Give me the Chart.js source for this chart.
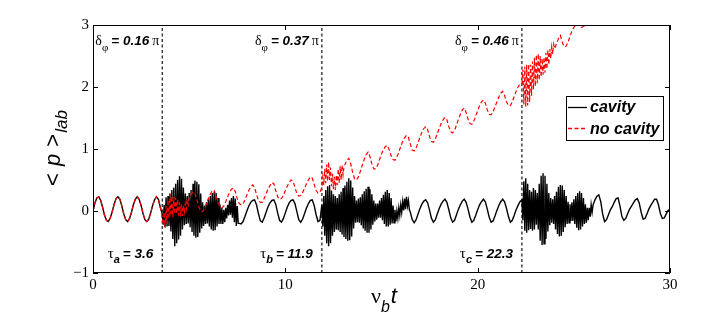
<!DOCTYPE html>
<html><head><meta charset="utf-8">
<script src="https://cdn.jsdelivr.net/npm/chart.js@4/dist/chart.umd.min.js"></script>
<style>html,body{margin:0;padding:0;background:#fff;}#wrap{width:708px;height:336px;}</style>
</head><body><div id="wrap"><canvas id="c" width="708" height="336"></canvas></div>
<script>
// ---- axis / annotation data ----
const xTicks = [0, 10, 20, 30];
const yTicks = [-1, 0, 1, 2, 3];
const tauTimes = [3.6, 11.9, 22.3];
const tauNames = ['a', 'b', 'c'];
const deltaPhi = ['0.16', '0.37', '0.46'];
const seriesNames = ['cavity', 'no cavity'];

// ---- "cavity" series, piecewise (start time, step, values) ----
const cavStart = [0, 3.6, 7.6, 11.9, 16.5, 22.3, 26.0];
const cavStep  = [0.1, 0.05, 0.1, 0.05, 0.1, 0.05, 0.1];
const cav1 = [0.00,0.13,0.21,0.23,0.17,0.06,-0.07,-0.15,-0.17,-0.11,
  -0.01,0.11,0.20,0.23,0.19,0.08,-0.05,-0.14,-0.17,-0.12,
  -0.02,0.10,0.19,0.23,0.19,0.09,-0.04,-0.14,-0.17,-0.13,
  -0.03,0.09,0.18,0.23,0.19,0.06];
const cav2 = [-0.05,-0.22,0.10,-0.26,0.22,-0.25,0.24,-0.24,0.28,-0.33,
  0.34,-0.45,0.38,-0.57,0.44,-0.52,0.50,-0.46,0.56,-0.40,
  0.52,-0.30,0.38,-0.23,0.28,-0.21,0.24,-0.20,0.29,-0.26,
  0.34,-0.34,0.44,-0.40,0.49,-0.43,0.47,-0.42,0.43,-0.35,
  0.28,-0.28,0.14,-0.24,0.09,-0.21,0.14,-0.20,0.19,-0.25,
  0.24,-0.30,0.29,-0.32,0.31,-0.31,0.29,-0.25,0.21,-0.21,
  0.11,-0.21,0.05,-0.21,0.02,-0.18,0.05,-0.12,0.10,-0.07,
  0.17,-0.06,0.21,-0.11,0.24,-0.18,0.20,-0.24,0.08,-0.20];
const cav3 = [-0.20,-0.21,-0.17,-0.09,0.00,0.08,0.14,0.17,0.18,0.10,
  -0.04,-0.16,-0.18,-0.11,-0.02,0.07,0.13,0.17,0.18,0.11,
  -0.03,-0.15,-0.18,-0.12,-0.03,0.06,0.13,0.17,0.18,0.12,
  -0.01,-0.14,-0.18,-0.13,-0.04,0.05,0.12,0.17,0.18,0.09,
  -0.06,-0.17,-0.15];
const cav4 = [0.10,-0.25,0.24,-0.40,0.34,-0.52,0.40,-0.57,0.42,-0.52,
  0.33,-0.40,0.27,-0.34,0.24,-0.30,0.21,-0.31,0.27,-0.34,
  0.31,-0.38,0.37,-0.42,0.41,-0.45,0.47,-0.48,0.53,-0.47,
  0.49,-0.41,0.38,-0.28,0.24,-0.19,0.17,-0.18,0.20,-0.19,
  0.22,-0.23,0.27,-0.28,0.32,-0.32,0.36,-0.35,0.39,-0.35,
  0.35,-0.30,0.27,-0.22,0.17,-0.17,0.12,-0.14,0.12,-0.11,
  0.17,-0.11,0.21,-0.15,0.26,-0.21,0.31,-0.25,0.34,-0.25,
  0.29,-0.22,0.21,-0.20,0.09,-0.19,0.02,-0.17,0.00,-0.12,
  0.05,-0.07,0.10,-0.02,0.15,0.01,0.20,0.03,0.23,0.08,
  0.17,0.02];
const cav5 = [-0.02,-0.14,-0.19,-0.14,-0.05,0.04,0.11,0.16,0.18,0.13,
  0.01,-0.12,-0.18,-0.14,-0.05,0.04,0.11,0.16,0.19,0.14,
  0.02,-0.11,-0.18,-0.15,-0.06,0.03,0.10,0.16,0.19,0.14,
  0.03,-0.10,-0.18,-0.15,-0.07,0.02,0.10,0.15,0.19,0.15,
  0.03,-0.10,-0.18,-0.16,-0.08,0.01,0.09,0.15,0.19,0.15,
  0.04,-0.09,-0.18,-0.15,-0.07,0.02,0.09,0.15];
const cav6 = [0.18,-0.15,0.48,-0.32,0.53,-0.35,0.44,-0.31,0.34,-0.29,
  0.31,-0.32,0.37,-0.30,0.34,-0.22,0.29,-0.30,0.44,-0.48,
  0.57,-0.55,0.61,-0.53,0.57,-0.45,0.44,-0.33,0.29,-0.23,
  0.21,-0.19,0.19,-0.21,0.24,-0.30,0.31,-0.37,0.39,-0.41,
  0.42,-0.40,0.41,-0.34,0.34,-0.26,0.24,-0.21,0.15,-0.19,
  0.11,-0.16,0.14,-0.16,0.19,-0.21,0.24,-0.27,0.29,-0.31,
  0.32,-0.30,0.29,-0.25,0.21,-0.21,0.11,-0.19,0.05,-0.15,
  0.05,-0.09,0.10,-0.02];
const cav7 = [0.10,0.18,0.24,0.26,0.15,-0.05,-0.17,-0.14,-0.06,0.02,
  0.07,0.14,0.20,0.21,0.08,-0.09,-0.15,-0.12,-0.04,0.03,
  0.08,0.13,0.18,0.20,0.13,-0.02,-0.13,-0.12,-0.05,0.03,
  0.09,0.14,0.19,0.19,0.10,-0.04,-0.12,-0.11,-0.05,0.01,
  0.03];

// ---- "no cavity" series (identical to cavity before tau_a) ----
const noStart = [0, 3.6, 5.0, 11.9, 13.1, 22.3, 24.0];
const noStep  = [0.1, 0.05, 0.1, 0.05, 0.1, 0.05, 0.1];
const no1 = cav1;
const no2 = [-0.10,-0.22,-0.02,-0.27,0.08,-0.20,0.18,-0.12,0.27,-0.08,
  0.24,-0.10,0.23,-0.05,0.21,-0.04,0.19,-0.07,0.14,-0.09,
  0.11,-0.08,0.09,-0.02,0.12,0.03,0.18,0.10];
const no3 = [0.20,0.27,0.31,0.28,0.18,0.07,0.00,-0.01,0.04,0.12,
  0.20,0.27,0.33,0.33,0.25,0.14,0.06,0.05,0.08,0.15,
  0.23,0.30,0.35,0.37,0.31,0.20,0.12,0.10,0.11,0.18,
  0.26,0.33,0.39,0.42,0.38,0.27,0.17,0.14,0.14,0.20,
  0.28,0.35,0.41,0.46,0.44,0.33,0.23,0.19,0.20,0.25,
  0.33,0.40,0.46,0.50,0.48,0.38,0.28,0.24,0.25,0.30,
  0.37,0.44,0.50,0.55,0.53,0.43,0.33,0.29,0.30];
const no4 = [0.38,0.55,0.42,0.68,0.45,0.75,0.48,0.79,0.50,0.70,
  0.40,0.60,0.35,0.55,0.34,0.58,0.42,0.68,0.45,0.72,
  0.50,0.74,0.58,0.72];
const no5 = [0.75,0.82,0.85,0.76,0.62,0.52,0.50,0.55,0.64,0.74,
  0.83,0.91,0.95,0.88,0.76,0.68,0.68,0.74,0.83,0.92,
  0.99,1.04,1.06,0.99,0.89,0.83,0.82,0.87,0.95,1.04,
  1.12,1.18,1.22,1.19,1.08,0.98,0.97,1.02,1.10,1.19,
  1.27,1.33,1.36,1.31,1.20,1.12,1.11,1.16,1.25,1.33,
  1.41,1.47,1.51,1.47,1.36,1.28,1.26,1.30,1.39,1.48,
  1.56,1.63,1.66,1.59,1.48,1.41,1.40,1.45,1.53,1.62,
  1.70,1.76,1.79,1.74,1.63,1.56,1.55,1.60,1.68,1.76,
  1.84,1.90,1.93,1.86,1.76,1.70,1.70,1.76,1.85,1.93,
  2.00,2.05];
const no6 = [2.05,2.28,1.72,2.33,1.68,2.36,1.70,2.37,1.76,2.36,
  1.86,2.41,1.96,2.47,2.01,2.52,2.06,2.54,2.11,2.50,
  2.16,2.46,2.20,2.48,2.23,2.55,2.29,2.59,2.36,2.61,
  2.46,2.65,2.53,2.69];
const no7 = [2.62,2.70,2.78,2.83,2.72,2.65,2.66,2.72,2.82,2.90,
  2.96,3.00,3.03,2.99,2.96,2.98,2.98,3.05,3.12,3.18,3.25];

const cavSegs = [cav1, cav2, cav3, cav4, cav5, cav6, cav7];
const noSegs = [no1, no2, no3, no4, no5, no6, no7];

function toPoints(starts, steps, segs) {
  const pts = [];
  segs.forEach((vals, k) => {
    vals.forEach((v, i) => pts.push({ x: Math.round((starts[k] + i * steps[k]) * 1000) / 1000, y: v }));
  });
  return pts;
}

const cavityPts = toPoints(cavStart, cavStep, cavSegs);
const noCavPts = toPoints(noStart, noStep, noSegs);

const vlines = tauTimes.map(t => ({
  data: [{ x: t, y: -1 }, { x: t, y: 3 }],
  borderColor: '#000', borderWidth: 1.1, borderDash: [3, 2.5],
  pointRadius: 0, order: 3, fill: false
}));

const SERIF = '"Liberation Serif", "Times New Roman", serif';
const SANS = '"Liberation Sans", Arial, sans-serif';

function drawParts(ctx, parts, xRight, baseline) {
  let total = 0;
  parts.forEach(p => { ctx.font = p.f; p.w = ctx.measureText(p.t).width; total += p.w + (p.gap || 0); });
  let x = xRight - total;
  parts.forEach(p => {
    ctx.font = p.f;
    ctx.fillText(p.t, x, baseline + (p.dy || 0));
    x += p.w + (p.gap || 0);
  });
}

const deco = {
  id: 'deco',
  afterDraw(chart) {
    const ctx = chart.ctx;
    const a = chart.chartArea;
    const xs = chart.scales.x, ys = chart.scales.y;
    ctx.save();
    ctx.strokeStyle = '#000';
    ctx.fillStyle = '#000';
    ctx.lineWidth = 1;
    ctx.setLineDash([]);
    // frame
    ctx.strokeRect(Math.round(a.left) + 0.5, Math.round(a.top) + 0.5,
      Math.round(a.right - a.left) - 1, Math.round(a.bottom - a.top) - 1);
    // inward ticks
    ctx.beginPath();
    xTicks.forEach(v => {
      const px = Math.round(xs.getPixelForValue(v)) + 0.5;
      ctx.moveTo(px, a.bottom); ctx.lineTo(px, a.bottom - 5);
      ctx.moveTo(px, a.top); ctx.lineTo(px, a.top + 5);
    });
    yTicks.forEach(v => {
      const py = Math.round(ys.getPixelForValue(v)) + 0.5;
      ctx.moveTo(a.left, py); ctx.lineTo(a.left + 5, py);
      ctx.moveTo(a.right, py); ctx.lineTo(a.right - 5, py);
    });
    ctx.stroke();

    // annotations near dashed lines
    ctx.textAlign = 'left';
    ctx.textBaseline = 'alphabetic';
    tauTimes.forEach((t, k) => {
      const px = xs.getPixelForValue(t);
      drawParts(ctx, [
        { t: 'δ', f: '14px ' + SERIF },
        { t: 'φ', f: '11px ' + SERIF, dy: 6, gap: 3 },
        { t: '= ' + deltaPhi[k], f: 'italic bold 13.5px ' + SANS, gap: 3 },
        { t: 'π', f: '14px ' + SERIF }
      ], px - 3, 45);
      drawParts(ctx, [
        { t: 'τ', f: '15px ' + SERIF },
        { t: tauNames[k], f: 'italic bold 11px ' + SANS, dy: 5, gap: 3 },
        { t: '= ' + t.toFixed(1), f: 'italic bold 13.5px ' + SANS }
      ], px - 9, 258);
    });

    // legend
    const lx = 566.5, ly = 96.5, lw = 97, lh = 44;
    ctx.fillStyle = '#fff';
    ctx.fillRect(lx, ly, lw, lh);
    ctx.strokeStyle = '#000';
    ctx.lineWidth = 1;
    ctx.strokeRect(lx, ly, lw, lh);
    ctx.lineWidth = 1.3;
    ctx.beginPath(); ctx.moveTo(568, 107.5); ctx.lineTo(587, 107.5); ctx.stroke();
    ctx.strokeStyle = '#ff0000';
    ctx.setLineDash([4, 2.5]);
    ctx.beginPath(); ctx.moveTo(568, 128.5); ctx.lineTo(587, 128.5); ctx.stroke();
    ctx.setLineDash([]);
    ctx.fillStyle = '#000';
    ctx.font = 'italic bold 16px ' + SANS;
    ctx.fillText(seriesNames[0], 590, 112);
    ctx.fillText(seriesNames[1], 590, 134);

    // y title  < p >_lab
    ctx.save();
    ctx.translate(60, 186);
    ctx.rotate(-Math.PI / 2);
    let x = 0;
    const yparts = [
      { t: '< ', f: '22px ' + SANS, dy: 0 },
      { t: 'p', f: 'italic 22px ' + SANS, dy: 0 },
      { t: ' >', f: '22px ' + SANS, dy: 0 },
      { t: 'lab', f: 'italic 17px ' + SANS, dy: 7 }
    ];
    yparts.forEach(p => { ctx.font = p.f; ctx.fillText(p.t, x, p.dy); x += ctx.measureText(p.t).width + 1; });
    ctx.restore();

    // x title  ν_b t
    ctx.font = '22px ' + SERIF;
    ctx.fillText('ν', 371, 303);
    let w = ctx.measureText('ν').width;
    ctx.font = 'italic 16px ' + SANS;
    ctx.fillText('b', 371 + w, 312);
    let w2 = ctx.measureText('b').width;
    ctx.font = 'italic 22px ' + SANS;
    ctx.fillText('t', 371 + w + w2 + 1, 303);
    ctx.restore();
  }
};

new Chart(document.getElementById('c'), {
  type: 'line',
  data: {
    datasets: [
      { label: seriesNames[1], data: noCavPts, borderColor: '#ff0000', borderWidth: 1.2,
        borderDash: [4, 2.5], pointRadius: 0, tension: 0, order: 1, fill: false },
      { label: seriesNames[0], data: cavityPts, borderColor: '#000', borderWidth: 1.4,
        pointRadius: 0, tension: 0, order: 2, fill: false },
      ...vlines
    ]
  },
  options: {
    responsive: false, devicePixelRatio: 1, animation: false,
    parsing: false, normalized: true,
    layout: { padding: { left: 0, right: 38, top: 25, bottom: 0 } },
    plugins: { legend: { display: false }, tooltip: { enabled: false } },
    scales: {
      x: {
        type: 'linear', min: 0, max: 30,
        grid: { display: false, drawTicks: false },
        border: { display: false },
        ticks: { stepSize: 10, color: '#000', padding: 3, font: { family: SERIF, size: 15 } },
        afterFit(s) { s.height = 63; }
      },
      y: {
        type: 'linear', min: -1, max: 3,
        grid: { display: false, drawTicks: false },
        border: { display: false },
        ticks: { stepSize: 1, color: '#000', padding: 4, font: { family: SERIF, size: 15 },
          callback: v => (v < 0 ? '\u2212' + Math.abs(v) : String(v)) },
        afterFit(s) { s.width = 93; }
      }
    }
  },
  plugins: [deco]
});
</script></body></html>
